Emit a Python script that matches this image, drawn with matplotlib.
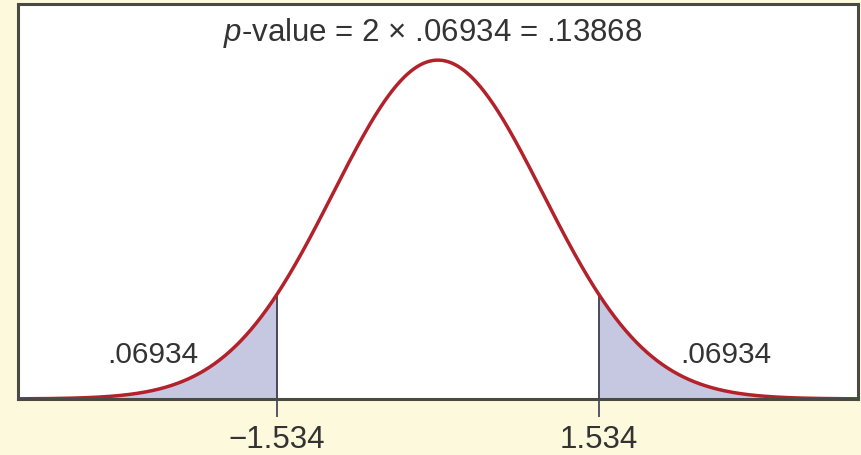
import numpy as np
import matplotlib.pyplot as plt

plt.rcParams['font.family'] = ['Liberation Sans', 'DejaVu Sans']
plt.rcParams['mathtext.fontset'] = 'custom'
plt.rcParams['mathtext.rm'] = 'Liberation Sans'
plt.rcParams['mathtext.it'] = 'Liberation Sans:italic'

# test statistic and one-tail area
z_crit = 1.534
tail_area = ".06934"
p_value = ".13868"
tick_labels = ["\u22121.534", "1.534"]

x = np.linspace(-4, 4, 801)
y = np.exp(-x ** 2 / 2) / np.sqrt(2 * np.pi)

fig = plt.figure(figsize=(8.62, 4.56), dpi=100, facecolor='#fdf9dc')
ax = fig.add_axes([0.021, 0.123, 0.974, 0.866])
ax.set_facecolor('white')

# shaded tails
ax.fill_between(x, 0, y, where=x <= -z_crit, color='#c5c8e0', lw=0)
ax.fill_between(x, 0, y, where=x >= z_crit, color='#c5c8e0', lw=0)
pdf_z = np.exp(-z_crit ** 2 / 2) / np.sqrt(2 * np.pi)
ax.vlines([-z_crit, z_crit], 0, pdf_z, colors='#3c3c4c', lw=1.3)

ax.plot(x, y, color='#b3222b', lw=2.5, solid_capstyle='butt')

ax.set_xlim(-4, 4)
ax.set_ylim(0, 0.465)

for s in ax.spines.values():
    s.set_color('#4a4a44')
    s.set_linewidth(2.2)

ax.set_yticks([])
ax.set_xticks([-z_crit, z_crit])
ax.set_xticklabels(tick_labels, fontsize=22.5, color='#333333')
ax.tick_params(axis='x', direction='out', length=13, width=1.2, color='#3c3c4c', pad=5)

ax.text(0.494, 0.93, r"$p$-value = 2 $\times$ " + tail_area + " = " + p_value,
        transform=ax.transAxes, ha='center', va='center', fontsize=22.5, color='#333333')
ax.text(-2.72, 0.053, tail_area, ha='center', va='center', fontsize=21.5, color='#333333')
ax.text(2.74, 0.053, tail_area, ha='center', va='center', fontsize=21.5, color='#333333')

fig.savefig('out.png', dpi=100, facecolor=fig.get_facecolor())
